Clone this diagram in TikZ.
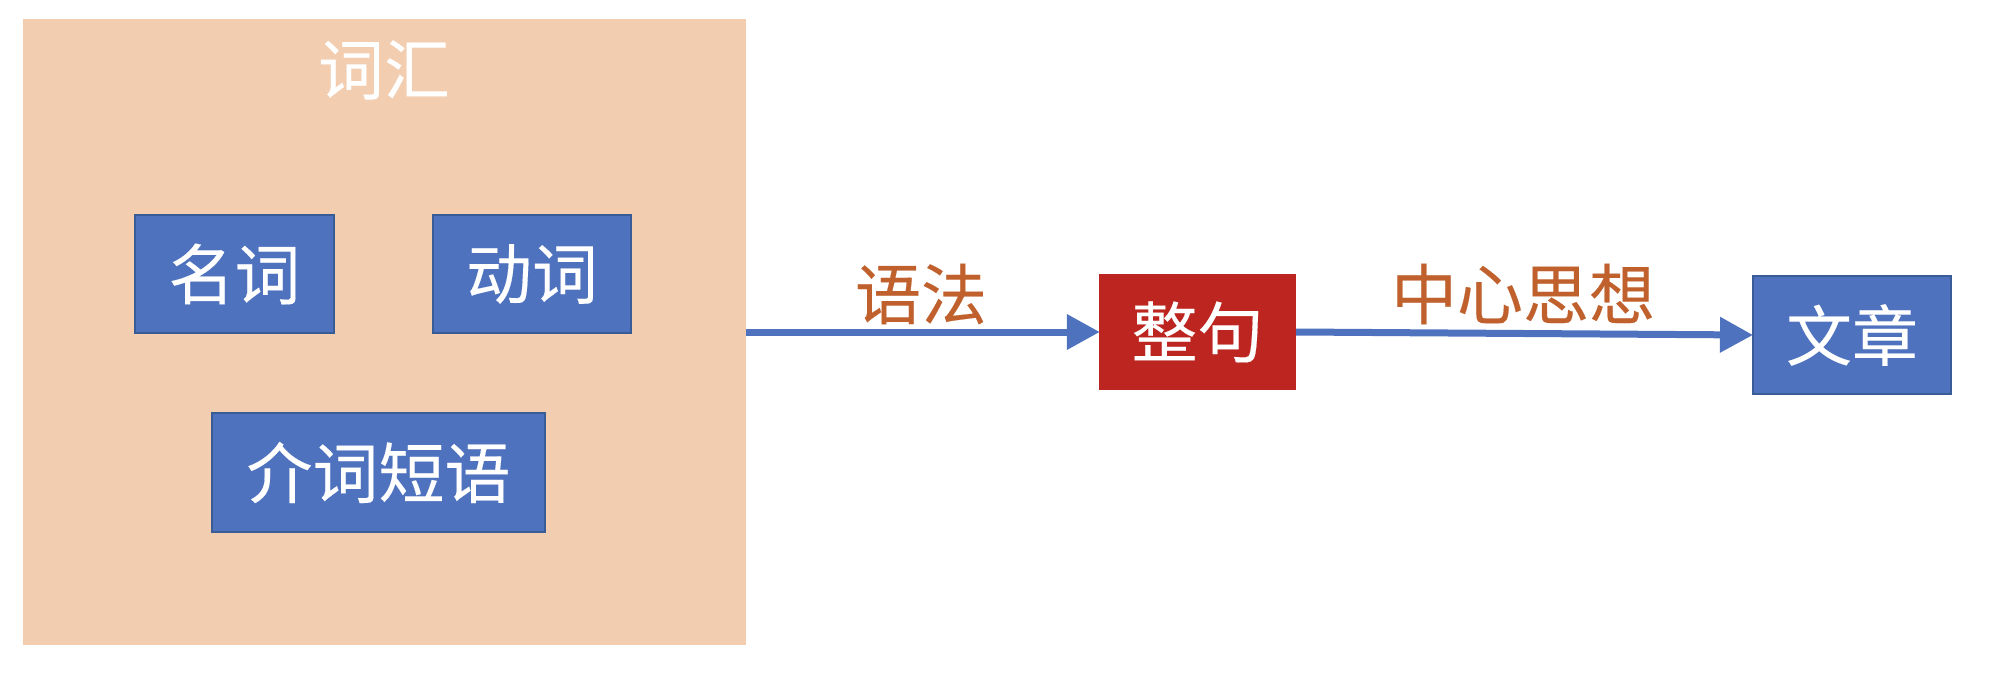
\documentclass[tikz,border=0pt]{standalone}
\usepackage{fontspec}
\setmainfont{Noto Sans CJK SC}
\newfontfamily\cjkfont{Noto Sans CJK SC}[FakeBold=0.2]
\usetikzlibrary{arrows.meta}
\definecolor{peach}{HTML}{F2CDB0}
\definecolor{boxblue}{HTML}{4E72BE}
\definecolor{boxedge}{HTML}{3A5C96}
\definecolor{boxred}{HTML}{BC2520}
\definecolor{labelorange}{HTML}{C0602C}
\begin{document}
\begin{tikzpicture}[x=1pt,y=-1pt,
  bigtext/.style={font=\cjkfont\fontsize{66}{76}\selectfont},
  bluebox/.style={bigtext, fill=boxblue, draw=boxedge, line width=2pt, text=white, inner sep=0pt},
  redbox/.style={bigtext, fill=boxred, text=white, inner sep=0pt},
  flow/.style={draw=boxblue, line width=7pt, -{Triangle[length=33pt,width=34pt]}, shorten >=-1pt},
  flowlabel/.style={bigtext, text=labelorange, inner sep=0pt}]
  \useasboundingbox (0,0) rectangle (1992,674);
  \fill[white] (0,0) rectangle (1992,674);
  % vocabulary group
  \node[fill=peach, minimum width=723pt, minimum height=626pt, inner sep=0pt] (vocab) at (384.5,332) {};
  \node[bigtext, text=white, inner sep=0pt] (vtitle) at (384,70) {词汇};
  \node[bluebox, minimum width=199pt, minimum height=118pt] (noun) at (234.5,274) {名词};
  \node[bluebox, minimum width=198pt, minimum height=118pt] (verb) at (532,274) {动词};
  \node[bluebox, minimum width=333pt, minimum height=119pt] (prep) at (378.5,472.5) {介词短语};
  % sentence and article
  \node[redbox, minimum width=197pt, minimum height=116pt] (sent) at (1197.5,332) {整句};
  \node[bluebox, minimum width=198pt, minimum height=118pt] (text) at (1852,335) {文章};
  % connectors
  \draw[flow] (vocab.east |- sent.west) -- (sent.west);
  \draw[flow] (sent.east) -- (text.west);
  \node[flowlabel] (gram) at (921,294) {语法};
  \node[flowlabel] (idea) at (1523,294) {中心思想};
\end{tikzpicture}
\end{document}
